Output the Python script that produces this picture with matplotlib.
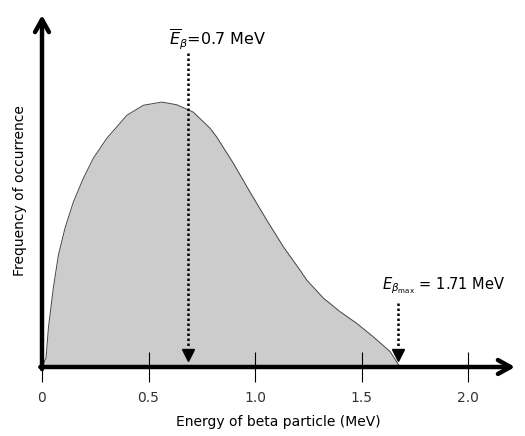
import matplotlib.pyplot as plt

# beta spectrum (energy in MeV, frequency arbitrary units)
energy = [0.0, 0.019, 0.030, 0.053, 0.077, 0.108, 0.147, 0.194, 0.241, 0.304,
          0.366, 0.398, 0.476, 0.562, 0.632, 0.710, 0.789, 0.820, 0.898, 0.977,
          1.055, 1.133, 1.211, 1.243, 1.321, 1.399, 1.477, 1.555, 1.634, 1.68]
freq = [0.0, 0.034, 0.147, 0.298, 0.423, 0.525, 0.623, 0.713, 0.789, 0.864,
        0.921, 0.951, 0.989, 1.001, 0.991, 0.963, 0.902, 0.869, 0.770, 0.660,
        0.555, 0.454, 0.366, 0.328, 0.260, 0.209, 0.165, 0.114, 0.058, 0.0]

xticks = [0, 0.5, 1.0, 1.5, 2.0]
xticklabels = ['0', '0.5', '1.0', '1.5', '2.0']

e_mean = 0.685
e_max = 1.67

fig = plt.figure(figsize=(5.25, 4.36), dpi=100)
ax = fig.add_axes([42 / 525, (436 - 367) / 436, 473 / 525, 352 / 436])
ax.set_xlim(0, 2.22)
ax.set_ylim(0, 1.33)

ax.fill_between(energy, freq, color='#cccccc', lw=0)
ax.plot(energy, freq, color='#444444', lw=0.7)

for s in ax.spines.values():
    s.set_visible(False)

# axes with arrows
arrow = dict(arrowstyle='->,head_length=0.9,head_width=0.5', lw=3.2, color='black',
             shrinkA=0, shrinkB=0)
ax.annotate('', xy=(2.22, 0), xytext=(-0.008, 0), arrowprops=arrow, annotation_clip=False)
ax.annotate('', xy=(0, 1.33), xytext=(0, -0.008), arrowprops=arrow, annotation_clip=False)

ax.set_xticks(xticks)
ax.set_xticklabels(xticklabels, color='#333333', fontsize=10)
ax.tick_params(axis='x', direction='inout', length=21, width=0.8, pad=7)
ax.set_yticks([])

ax.set_xlabel('Energy of beta particle (MeV)', fontsize=10, labelpad=7)
ax.set_ylabel('Frequency of occurrence', fontsize=10, labelpad=11)

# mean energy marker
ax.plot([e_mean, e_mean], [1.185, 0.07], color='black', lw=1.8, ls=(0, (1, 1)))
ax.plot([e_mean], [0.045], marker='v', color='black', ms=9, clip_on=False)
ax.text(e_mean - 0.09, 1.19, r'$\overline{E}_{\beta}$=0.7 MeV', fontsize=11.5,
        ha='left', va='bottom')

# max energy marker
ax.plot([e_max, e_max], [0.24, 0.07], color='black', lw=1.8, ls=(0, (1, 1)))
ax.plot([e_max], [0.045], marker='v', color='black', ms=9, clip_on=False)
ax.text(e_max - 0.075, 0.27, r'$E_{\beta_{\rm max}}$ = 1.71 MeV', fontsize=10.5,
        ha='left', va='bottom')

fig.savefig('out.png', dpi=100)
